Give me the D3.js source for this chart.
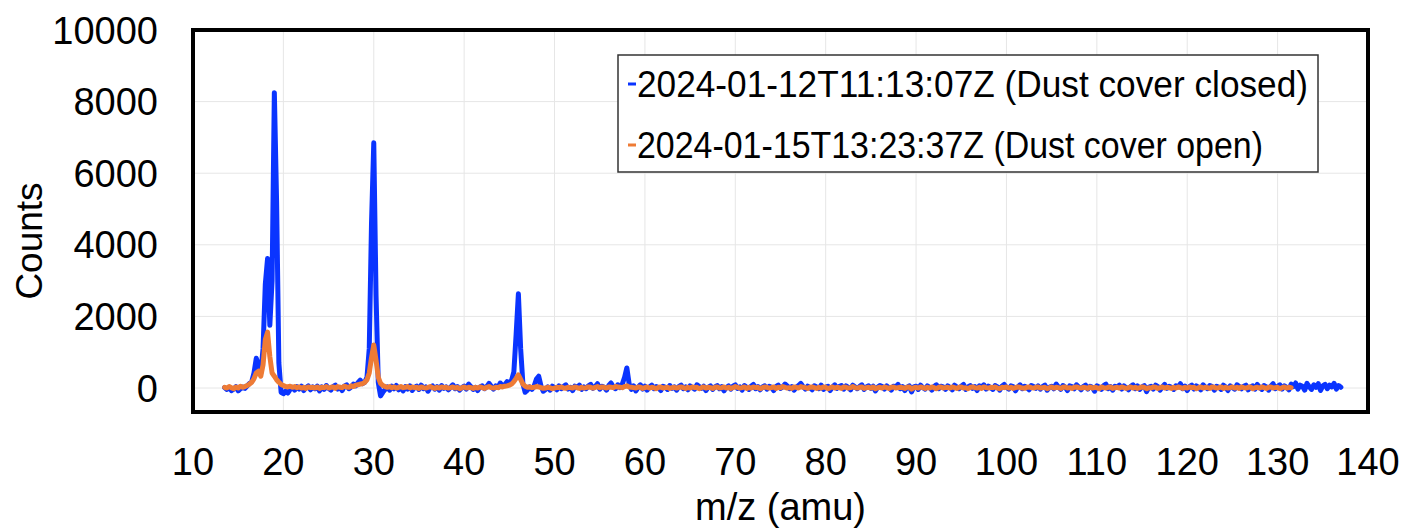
<!DOCTYPE html>
<html>
<head>
<meta charset="utf-8">
<script src="https://cdn.jsdelivr.net/npm/d3@7"></script>
<style>
  body { margin: 0; background: #fff; }
  text { font-family: "Liberation Sans", Arial, sans-serif; fill: #000; }
</style>
</head>
<body>
<div id="vis"></div>
<script>
// m/z grid: spectra sampled every 0.25 amu starting at 13.5
const mzStart = 13.5, mzStep = 0.25;

const seriesNames = ['2024-01-12T11:13:07Z (Dust cover closed)', '2024-01-15T13:23:37Z (Dust cover open)'];
const seriesColors = ['#0a34ff', '#ee7b35'];

const xTicks = [10, 20, 30, 40, 50, 60, 70, 80, 90, 100, 110, 120, 130, 140];
const yTicks = [0, 2000, 4000, 6000, 8000, 10000];

// counts, dust cover closed (13.5 .. 137)
const closedCounts = [
  10, -40, 20, -70, -30, 40, -80, -20, 30, -10, 60, 130, 180, 420, 830, 640, 420, 1100, 2900, 3620,
  1750, 3000, 8250, 5200, 700, -120, -160, -90, -140, -40, 20, -60, 40, -30, 50, -70, 10, 60, -50, 30,
  -20, 50, -80, 30, -40, 70, -10, -60, 40, 80, -30, 20, -70, 50, 90, -20, 30, 110, 60, 150,
  220, 120, 160, 300, 1100, 4600, 6850, 2600, 150, -220, -120, -40, 30, -60, 50, -20, 70, -50, 20, -80,
  40, -30, 60, -70, 10, 50, -40, 80, -20, 30, -90, 20, 60, -30, 40, -60, 70, -10, 30, -50,
  20, 90, -20, 40, -60, 10, 50, -30, 110, 40, -40, 20, -70, 30, 60, -20, 40, 130, 50, -30,
  60, 20, 140, 60, 90, 180, 120, 220, 450, 1500, 2630, 1100, 120, -120, -60, 30, -40, 60, 250, 330,
  60, -90, -40, 30, -60, 50, 10, -50, 60, -20, 40, 90, -30, 20, -70, 50, 10, 80, -40, 30,
  -20, 60, 100, -10, 40, 120, -30, 50, 20, -60, 70, 140, 30, -20, 90, 10, 110, 300, 560, 120,
  -40, 60, -80, 20, 90, -30, 50, -60, 30, 80, -20, 40, 10, -70, 50, 20, -40, 70, -10, 30,
  -60, 40, 80, -20, 30, -50, 60, 10, -30, 90, 40, -10, 50, -70, 20, 60, -40, 30, 70, -20,
  40, -80, 10, 60, -30, 50, 90, -10, 30, -60, 70, 20, -40, 50, 100, -20, 40, -50, 30, 60,
  -30, 50, 20, -70, 40, 80, -10, 30, 110, 60, -20, 40, -60, 20, 70, 130, 40, -30, 50, 10,
  -50, 60, 30, -20, 80, -40, 20, 50, -70, 30, 90, -10, 40, 70, -30, 60, 20, -50, 80, 30,
  -20, 40, 90, -40, 30, 60, -10, 50, -80, 20, 70, 40, -30, 60, 10, -60, 50, 30, 100, -20,
  40, -70, 20, 60, -110, 30, 50, -40, 80, 10, -30, 60, 20, -60, 40, 90, -20, 50, 30, -40,
  60, 20, -50, 80, 30, -20, 50, 100, -40, 30, 70, -10, 40, -70, 60, 20, 90, -30, 50, 10,
  -40, 70, 30, -60, 50, 100, 20, -30, 60, 40, -80, 30, 90, -20, 50, 10, -50, 70, 40, -10,
  60, -30, 40, 80, -60, 20, 50, -20, 110, 30, -40, 70, 20, -70, 60, 40, -20, 90, 30, -50,
  40, 80, -30, 50, 20, -90, 60, 30, -40, 70, 110, -20, 40, -60, 50, 20, 80, -30, 60, 10,
  -50, 40, 90, -20, 60, -40, 30, 70, -100, 20, 50, -30, 80, 40, -60, 30, 100, -10, 50, 20,
  -40, 60, 30, 120, -20, 50, -70, 40, 80, -30, 60, 20, -50, 90, 30, -20, 70, 40, -60, 50,
  20, -40, 80, 30, -70, 60, 10, -30, 90, 40, -20, 50, 80, -50, 30, 60, -30, 100, 20, -40,
  70, 30, -60, 50, 120, -20, 40, 90, -30, 60, 20, -50, 110, 40, 140, -30, 80, 50, -60, 130,
  40, -40, 90, 20, 120, -70, 60, 100, -20, 80, 30, 130, -30, 70, 20
];

// counts, dust cover open (13.5 .. 131.5)
const openCounts = [
  20, 0, 40, 10, -20, 30, 0, 50, 20, 40, 70, 110, 160, 260, 420, 470, 330, 650, 1350, 1560,
  880, 420, 330, 230, 160, 100, 70, 40, 30, 50, 20, 40, 10, 30, 0, 20, -10, 30, 10, 20,
  0, 30, -10, 20, 10, 40, 0, 20, 30, -10, 40, 20, 10, 50, 30, 20, 60, 40, 80, 90,
  110, 120, 160, 230, 420, 850, 1200, 780, 300, 130, 70, 40, 20, 40, 10, 30, 0, 20, 40, 10,
  20, 40, 0, 30, 10, 20, -10, 30, 10, 0, 20, 40, 10, -10, 20, 0, 30, 10, 20, 0,
  10, 30, 0, 20, -20, 10, 30, 0, 20, 10, -10, 20, 0, 30, 10, -10, 20, 40, 10, 0,
  20, 10, 40, 30, 50, 60, 80, 110, 180, 270, 370, 240, 110, 50, 20, 30, 10, 20, 40, 30,
  10, -10, 0, 20, 10, -20, 0, 20, 10, 30, 0, -10, 20, 10, 0, 30, 10, -10, 20, 0,
  10, 30, 20, 0, 20, 40, 10, 30, 20, 0, 30, 20, 10, 40, 30, 20, 10, 40, 60, 30,
  20, 10, 0, 30, 20, -10, 10, 30, 0, 20, 10, -20, 20, 30, 0, 10, 20, -10, 10, 20,
  0, 20, 30, 10, -10, 20, 0, 30, 10, 20, -20, 10, 30, 0, 20, 10, -10, 20, 30, 0,
  10, 30, 0, 20, -10, 10, 40, 20, 0, 10, 30, -10, 20, 0, 30, 10, 20, -20, 10, 30,
  20, 0, 10, 30, -10, 20, 10, 40, 20, 0, 10, -10, 30, 20, 0, 40, 20, 10, -10, 20,
  30, 10, -10, 20, 0, 30, 20, -20, 10, 30, 0, 20, 10, -10, 30, 20, 0, 10, 40, 10,
  0, 20, 30, -10, 10, 20, 0, 30, -20, 10, 20, 0, 30, 10, -10, 20, 30, 0, 10, 20,
  10, -10, 20, 30, -30, 10, 20, 0, 30, 10, -10, 20, 0, 30, 10, -20, 20, 30, 0, 10,
  20, 0, 30, 10, -10, 20, 30, 0, 10, -20, 20, 30, 10, 0, 20, -10, 30, 10, 0, 20,
  10, 30, 0, -20, 20, 10, 30, 0, 20, -10, 10, 30, 20, 0, -10, 20, 30, 10, 0, 20,
  30, 0, 10, 20, -20, 10, 30, 0, 20, 10, -10, 20, 30, 0, 10, -10, 20, 30, 10, 0,
  20, 10, -10, 30, 0, 20, 10, -20, 30, 10, 0, 20, 30, -10, 10, 20, 0, 30, 10, -10,
  10, 30, 0, 20, -10, 10, 30, 20, -20, 10, 0, 30, 20, -10, 10, 30, 0, 20, 10, -10,
  20, 0, 30, 10, -10, 20, 0, 30, 10, 20, -20, 10, 30, 0, 20, 10, -10, 30, 20, 0,
  10, 30, -10, 20, 0, 10, 30, 0, 20, -10, 30, 10, 0, 20, 30, -20, 10, 20, 0, 30,
  10, -10, 20, 30, 0, 10, 20, -20, 10, 30, 0, 20, 10
];

const W = 1405, H = 529;
const plot = {left: 193, right: 1368, top: 30, bottom: 412};

const svg = d3.select('#vis')
    .append('svg')
    .attr('width', W)
    .attr('height', H);

const xScale = d3.scaleLinear().domain([10, 140]).range([plot.left, plot.right]);
const yScale = d3.scaleLinear().domain([-670, 10000]).range([plot.bottom, plot.top]);

// gridlines
svg.append('g')
    .selectAll('line.vgrid')
    .data(xTicks.slice(1, -1))
    .join('line')
    .attr('x1', d => xScale(d)).attr('x2', d => xScale(d))
    .attr('y1', plot.top).attr('y2', plot.bottom)
    .attr('stroke', '#e6e6e6').attr('stroke-width', 1);

svg.append('g')
    .selectAll('line.hgrid')
    .data(yTicks.slice(0, -1))
    .join('line')
    .attr('x1', plot.left).attr('x2', plot.right)
    .attr('y1', d => yScale(d)).attr('y2', d => yScale(d))
    .attr('stroke', '#e6e6e6').attr('stroke-width', 1);

// spectra
const line = d3.line()
    .x((d, i) => xScale(mzStart + i * mzStep))
    .y(d => yScale(d));

[closedCounts, openCounts].forEach((counts, k) => {
    svg.append('path')
        .datum(counts)
        .attr('d', line)
        .attr('fill', 'none')
        .attr('stroke', seriesColors[k])
        .attr('stroke-width', 5)
        .attr('stroke-linejoin', 'round')
        .attr('stroke-linecap', 'round');
});

// frame
svg.append('rect')
    .attr('x', plot.left).attr('y', plot.top)
    .attr('width', plot.right - plot.left)
    .attr('height', plot.bottom - plot.top)
    .attr('fill', 'none')
    .attr('stroke', '#000')
    .attr('stroke-width', 4);

// tick labels
svg.append('g')
    .selectAll('text')
    .data(yTicks)
    .join('text')
    .attr('x', 158)
    .attr('y', d => yScale(d))
    .attr('dy', '0.36em')
    .attr('text-anchor', 'end')
    .style('font-size', '38px')
    .text(d => d);

svg.append('g')
    .selectAll('text')
    .data(xTicks)
    .join('text')
    .attr('x', d => xScale(d))
    .attr('y', 475)
    .attr('text-anchor', 'middle')
    .style('font-size', '38px')
    .text(d => d);

// axis titles
svg.append('text')
    .attr('transform', 'translate(42,241) rotate(-90)')
    .attr('text-anchor', 'middle')
    .style('font-size', '37px')
    .text('Counts');

svg.append('text')
    .attr('x', (plot.left + plot.right) / 2)
    .attr('y', 520)
    .attr('text-anchor', 'middle')
    .style('font-size', '38px')
    .text('m/z (amu)');

// legend
const legend = svg.append('g');
legend.append('rect')
    .attr('x', 618).attr('y', 55)
    .attr('width', 700).attr('height', 117)
    .attr('fill', '#fff')
    .attr('stroke', '#333')
    .attr('stroke-width', 1.5);

seriesNames.forEach((name, k) => {
    const cy = 84 + k * 61;
    legend.append('line')
        .attr('x1', 628).attr('x2', 636)
        .attr('y1', cy).attr('y2', cy)
        .attr('stroke', seriesColors[k])
        .attr('stroke-width', 3);
    legend.append('text')
        .attr('x', 637)
        .attr('y', cy)
        .attr('dy', '0.36em')
        .style('font-size', '36px')
        .attr('textLength', k === 0 ? 671 : 626)
        .attr('lengthAdjust', 'spacingAndGlyphs')
        .text(name);
});
</script>
</body>
</html>
